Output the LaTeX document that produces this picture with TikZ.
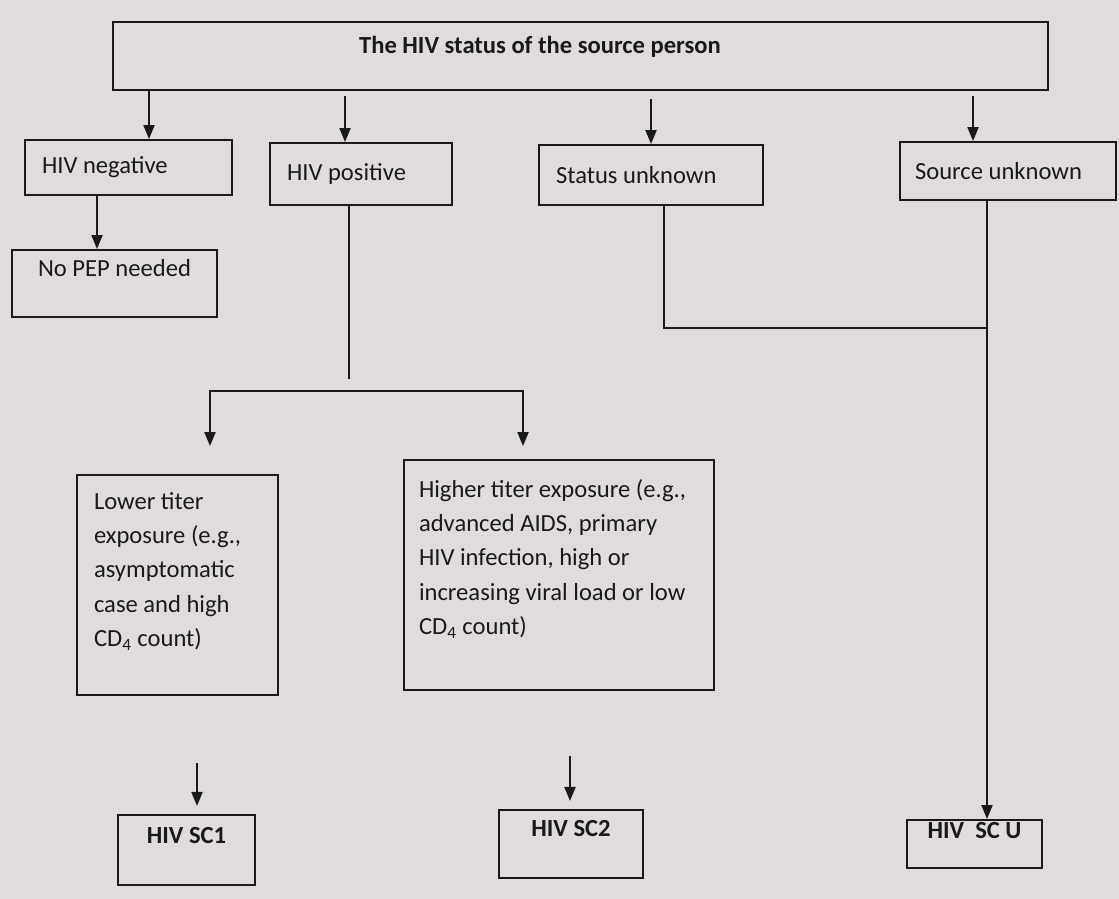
\documentclass[tikz,border=0pt]{standalone}
\usepackage{fontspec}
\setmainfont{Carlito}
\usepackage{xcolor}
\usepackage{tikz}
\usetikzlibrary{arrows.meta}
\definecolor{paperbg}{RGB}{224,220,220}
\definecolor{ink}{RGB}{25,25,25}

\begin{document}
\begin{tikzpicture}[
  x=0.02cm, y=-0.02cm,
  every node/.style={font=\fontsize{14}{19.6}\selectfont, text=ink},
  box/.style={draw=ink, line width=1.1pt, align=flush left, inner xsep=0.34cm, inner ysep=0pt},
  bbox/.style={box, font=\fontsize{14}{19.6}\selectfont\bfseries},
  arrow/.style={-{Triangle[length=2.8mm,width=2.2mm]}, line width=1.1pt, draw=ink},
  wire/.style={line width=1.1pt, draw=ink},
]
  % ---- Background ----
  \fill[paperbg] (0,0) rectangle (1119,899);

  % ---- Source person ----
  \node[box, minimum width=18.7cm, minimum height=1.36cm,
        label={[font=\fontsize{14}{19.6}\selectfont\bfseries, xshift=-0.81cm, yshift=0.18cm]center:The HIV status of the source person}]
        (status) at (580.5,56) {};

  % ---- Status ----
  \node[box, text width=3.46cm, minimum height=1.1cm] (neg) at (128.5,167.5) {HIV negative};
  \node[box, text width=2.96cm, minimum height=1.24cm] (pos) at (361,174) {HIV positive};
  \node[box, text width=3.8cm, minimum height=1.2cm] (unk) at (651,175) {Status unknown};
  \node[box, inner xsep=0.3cm, text width=3.72cm, minimum height=1.16cm] (srcunk) at (1008,171) {Source unknown};

  \node[box, minimum width=4.1cm, minimum height=1.34cm, text height=0.32cm, text depth=0.62cm] (nopep) at (114.5,283.5) {No PEP needed};

  % ---- Exposure ----
  \node[box, text width=3.34cm, minimum height=4.4cm, text height=0.32cm, text depth=3.36cm] (low) at (177.5,585)
    {Lower titer\\exposure (e.g.,\\asymptomatic\\case and high\\CD\textsubscript{4} count)};
  \node[box, inner xsep=0.3cm, text width=5.6cm, minimum height=4.6cm, text height=0.32cm, text depth=3.44cm] (high) at (559,575)
    {Higher titer exposure (e.g.,\\advanced AIDS, primary\\HIV infection, high or\\increasing viral load or low\\CD\textsubscript{4} count)};

  % ---- Classes ----
  \node[bbox, minimum width=2.74cm, minimum height=1.4cm, text height=0.32cm, text depth=0.6cm] (sc1) at (186.5,850) {HIV SC1};
  \node[bbox, minimum width=2.88cm, minimum height=1.36cm, text height=0.32cm, text depth=0.64cm] (sc2) at (571,844) {HIV SC2};
  \node[bbox, minimum width=2.7cm, minimum height=0.96cm, text height=0.32cm, text depth=0.56cm] (scu) at (974.5,844) {HIV\ \ SC U};

  % ---- Arrows ----
  \draw[arrow] ([xshift=0.41cm]neg.north) ++(0,-50) -- ([xshift=0.41cm]neg.north);
  \draw[arrow] ([xshift=-0.32cm]pos.north) ++(0,-46) -- ([xshift=-0.32cm]pos.north);
  \draw[arrow] (unk.north) ++(0,-45) -- (unk.north);
  \draw[arrow] ([xshift=-0.7cm]srcunk.north) ++(0,-45) -- ([xshift=-0.7cm]srcunk.north);

  \draw[arrow] ([xshift=-0.63cm]neg.south) -- ([xshift=-0.35cm]nopep.north);

  \draw[wire] (pos.south) ++(-12,0) -- ++(0,173);
  \draw[wire, {Triangle[length=2.8mm,width=2.2mm]}-{Triangle[length=2.8mm,width=2.2mm]}]
    (low.north) ++(32.5,-28) -- ++(0,-55) -| ([xshift=-0.72cm,yshift=0.26cm]high.north);

  \draw[wire] ([xshift=0.26cm]unk.south) |- ([xshift=-0.42cm,yshift=-2.54cm]srcunk.south);
  \draw[arrow] ([xshift=-0.42cm]srcunk.south) -- ([xshift=0.25cm]scu.north);

  \draw[arrow] (low.south) ++(19.5,67) -- ++(0,43);
  \draw[arrow] (high.south) ++(11,65) -- ++(0,45);
\end{tikzpicture}
\end{document}
